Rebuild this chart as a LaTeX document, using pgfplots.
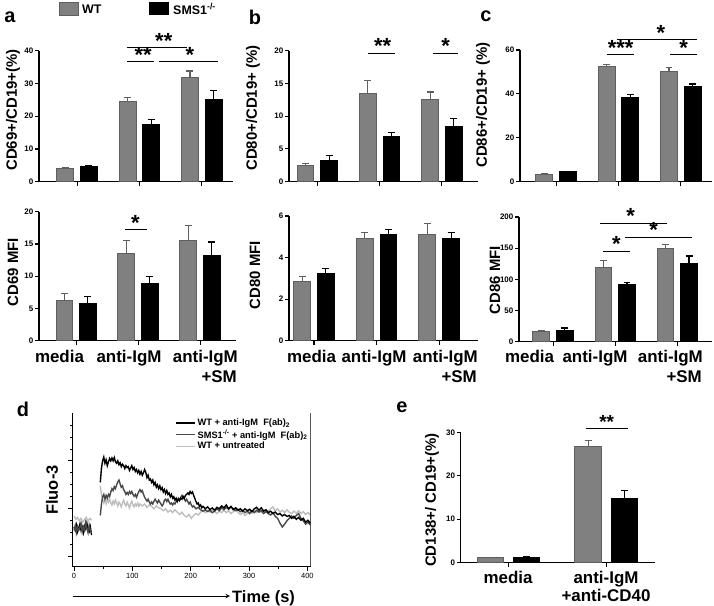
\documentclass[border=0pt]{standalone}
\usepackage{fontspec}
\setmainfont{Liberation Sans}
\usepackage{pgfplots}
\pgfplotsset{compat=1.18}
\definecolor{wtfill}{RGB}{128,128,128}
\definecolor{wtdraw}{RGB}{95,95,95}
\definecolor{smsgray}{RGB}{72,72,72}
\definecolor{untr}{RGB}{190,190,190}
\newcommand{\fs}[1]{\fontsize{#1}{#1}\selectfont}
\pgfplotsset{
  barax/.style={
    scale only axis, anchor=south west,
    axis lines=left,
    axis line style={-, line width=1.3pt},
    ymin=0, xtick={0,1,2}, xticklabels={},
    tick align=outside, major tick length=4pt,
    tick style={line width=1.1pt, black},
    yticklabel style={font=\bfseries\fs{8}, inner sep=1.5pt},
    /pgf/number format/assume math mode=true,
    clip=false,
  },
  wt/.style={ybar, bar width=0.27, bar shift=0pt, fill=wtfill, draw=wtdraw, line width=1pt,
    error bars/y dir=plus, error bars/y explicit,
    error bars/error bar style={line width=1.1pt, draw=wtdraw},
    error bars/error mark options={rotate=90, mark size=3.5pt, line width=1.1pt, draw=wtdraw}},
  sms/.style={ybar, bar width=0.27, bar shift=0pt, fill=black, draw=black, line width=1pt,
    error bars/y dir=plus, error bars/y explicit,
    error bars/error bar style={line width=1.1pt, draw=black},
    error bars/error mark options={rotate=90, mark size=3.5pt, line width=1.1pt, draw=black}},
}
\tikzset{
  sig/.style={line width=1pt, black},
  ast/.style={font=\bfseries\fs{22}, anchor=base, inner sep=0pt, yshift=-0.5pt},
  cat/.style={font=\bfseries\fs{17}, anchor=base, inner sep=0pt},
  ylab/.style={font=\bfseries\fs{15}, rotate=90, anchor=center, inner sep=0pt},
  plab/.style={font=\bfseries\fs{20}, anchor=center, inner sep=0pt},
}
\begin{document}
\begin{tikzpicture}
\useasboundingbox (0,0) rectangle (714bp,-606bp);

% ---------- legend (top) ----------
\filldraw[fill=wtfill, draw=wtdraw, line width=0.8pt] (59.5bp,-2bp) rectangle (78bp,-15bp);
\node[anchor=west, font=\bfseries\fs{12.5}, inner sep=0pt] at (82bp,-9bp) {WT};
\fill[black] (149bp,-2bp) rectangle (169bp,-15bp);
\node[anchor=west, font=\bfseries\fs{12.5}, inner sep=0pt] at (173bp,-9bp) {SMS1\textsuperscript{-/-}};

% ---------- panel a top ----------
\begin{axis}[barax, at={(39bp,-181.7bp)}, width=194bp, height=131bp,
  xmin=-0.61, xmax=2.5, ymax=40, ytick={0,10,20,30,40}]
\addplot[wt] coordinates {(-0.19,4.0) +- (0,0.3) (0.81,24.6) +- (0,1.1) (1.81,31.8) +- (0,2.0)};
\addplot[sms] coordinates {(0.19,4.5) +- (0,0.5) (1.19,17.6) +- (0,1.4) (2.19,25.2) +- (0,2.7)};
\draw[sig] (axis cs:0.80,36.6) -- (axis cs:1.24,36.6);
\node[ast] at (axis cs:1.06,36.6) {**};
\draw[sig] (axis cs:0.80,40.9) -- (axis cs:1.76,40.9);
\node[ast] at (axis cs:1.39,40.9) {**};
\draw[sig] (axis cs:1.32,36.6) -- (axis cs:2.26,36.6);
\node[ast] at (axis cs:1.81,36.6) {*};
\end{axis}

% ---------- panel a bottom ----------
\begin{axis}[barax, at={(39bp,-340.7bp)}, width=197bp, height=129bp,
  xmin=-0.6, xmax=2.58, ymax=20, ytick={0,5,10,15,20}]
\addplot[wt] coordinates {(-0.19,6.3) +- (0,1.0) (0.81,13.5) +- (0,2.1) (1.81,15.5) +- (0,2.4)};
\addplot[sms] coordinates {(0.19,5.8) +- (0,1.0) (1.19,8.9) +- (0,1.0) (2.19,13.2) +- (0,2.1)};
\draw[sig] (axis cs:0.79,17.2) -- (axis cs:1.14,17.2);
\node[ast] at (axis cs:0.955,17.2) {*};
\end{axis}

% ---------- panel b top ----------
\begin{axis}[barax, at={(289bp,-181.7bp)}, width=189bp, height=131bp,
  xmin=-0.455, xmax=2.58, ymax=20, ytick={0,5,10,15,20}]
\addplot[wt] coordinates {(-0.19,2.5) +- (0,0.3) (0.81,13.4) +- (0,2.0) (1.81,12.6) +- (0,1.1)};
\addplot[sms] coordinates {(0.19,3.3) +- (0,0.7) (1.19,6.9) +- (0,0.6) (2.19,8.5) +- (0,1.2)};
\draw[sig] (axis cs:0.815,19.6) -- (axis cs:1.25,19.6);
\node[ast] at (axis cs:1.05,19.6) {**};
\draw[sig] (axis cs:1.86,19.6) -- (axis cs:2.26,19.6);
\node[ast] at (axis cs:2.06,19.6) {*};
\end{axis}

% ---------- panel b bottom ----------
\begin{axis}[barax, at={(289bp,-340.7bp)}, width=189bp, height=124.7bp,
  xmin=-0.4, xmax=2.62, ymax=6, ytick={0,2,4,6}]
\addplot[wt] coordinates {(-0.19,2.87) +- (0,0.2) (0.81,4.94) +- (0,0.28) (1.81,5.1) +- (0,0.55)};
\addplot[sms] coordinates {(0.19,3.21) +- (0,0.27) (1.19,5.09) +- (0,0.27) (2.19,4.91) +- (0,0.31)};
\end{axis}

% ---------- panel c top ----------
\begin{axis}[barax, at={(520bp,-181.7bp)}, width=192bp, height=131.7bp,
  xmin=-0.58, xmax=2.5, ymax=60, ytick={0,20,40,60}]
\addplot[wt] coordinates {(-0.19,3.3) +- (0,0.2) (0.81,52.4) +- (0,1.1) (1.81,50.2) +- (0,2.0)};
\addplot[sms] coordinates {(0.19,4.5) +- (0,0.3) (1.19,38.4) +- (0,1.5) (2.19,43.6) +- (0,0.9)};
\draw[sig] (axis cs:0.82,57.8) -- (axis cs:1.25,57.8);
\node[ast] at (axis cs:1.035,57.8) {***};
\draw[sig] (axis cs:1.83,57.8) -- (axis cs:2.26,57.8);
\node[ast] at (axis cs:2.045,57.8) {*};
\draw[sig] (axis cs:0.98,64.6) -- (axis cs:2.26,64.6);
\node[ast] at (axis cs:1.68,64.6) {*};
\end{axis}

% ---------- panel c bottom ----------
\begin{axis}[barax, at={(519bp,-341.7bp)}, width=193bp, height=124.7bp,
  xmin=-0.55, xmax=2.56, ymax=200, ytick={0,50,100,150,200}]
\addplot[wt] coordinates {(-0.19,16) +- (0,2.5) (0.81,119.6) +- (0,10.2) (1.81,150) +- (0,5.4)};
\addplot[sms] coordinates {(0.19,18) +- (0,4) (1.19,91) +- (0,4.3) (2.19,126) +- (0,11.5)};
\draw[sig] (axis cs:0.76,190) -- (axis cs:1.84,190);
\node[ast] at (axis cs:1.25,190) {*};
\draw[sig] (axis cs:1.15,167.8) -- (axis cs:2.24,167.8);
\node[ast] at (axis cs:1.62,167.8) {*};
\draw[sig] (axis cs:0.81,144.8) -- (axis cs:1.24,144.8);
\node[ast] at (axis cs:1.02,144.8) {*};
\end{axis}

% ---------- panel e ----------
\begin{axis}[barax, at={(460.7bp,-562.7bp)}, width=194.3bp, height=130.4bp,
  xmin=-0.49, xmax=1.5, ymax=30, xtick={0,1}, ytick={0,10,20,30}]
\addplot[bar width=0.265, wt] coordinates {(-0.185,1.2) +- (0,0.1) (0.815,26.7) +- (0,1.5)};
\addplot[bar width=0.265, sms] coordinates {(0.185,1.3) +- (0,0.1) (1.185,14.8) +- (0,1.8)};
\draw[sig] (axis cs:0.79,30.9) -- (axis cs:1.22,30.9);
\node[ast, font=\bfseries\fs{19}, yshift=0pt] at (axis cs:1.005,30.9) {**};
\end{axis}

% ---------- panel d ----------
\begin{axis}[scale only axis, anchor=south west, at={(72.7bp,-566.7bp)},
  width=238bp, height=153.7bp,
  xmin=-2.3, xmax=405.7, ymin=-0.21, ymax=3.0,
  axis lines=left, axis line style={-, line width=1.1pt},
  xtick={0,100,200,300,400}, minor xtick={50,150,250,350},
  ytick={0,1,2}, yticklabels={}, minor ytick={0.25,0.5,0.75,1.25,1.5,1.75,2.25,2.5,2.75},
  tick align=outside, major tick length=4.5pt, minor tick length=2.5pt,
  tick style={line width=0.8pt, black},
  xticklabel style={font=\fs{7.5}, inner sep=2pt},
  /pgf/number format/assume math mode=true,
  legend style={at={(0.43,0.975)}, anchor=north west, draw=none, fill=none,
    font=\bfseries\fs{9.3}, inner sep=0pt, row sep=-1.5pt},
  legend cell align=left,
  legend image code/.code={\draw[#1] (0bp,0bp) -- (19bp,0bp);},
]
\addplot[black, line width=1.4pt] coordinates {
(0,0.62)(2,0.55)(4,0.66)(6,0.52)(8,0.6)(10,0.68)(12,0.55)(14,0.62)(16,0.5)(18,0.64)(20,0.58)(22,0.7)(24,0.56)(26,0.52)(28,0.62)(30,0.45)};
\addlegendentry{WT + anti-IgM\ \ F(ab)\textsubscript{2}}
\addplot[smsgray, line width=1.4pt] coordinates {
(0,0.55)(2,0.65)(4,0.5)(6,0.63)(8,0.55)(10,0.6)(12,0.7)(14,0.52)(16,0.62)(18,0.55)(20,0.72)(22,0.6)(24,0.5)(26,0.66)(28,0.55)(30,0.5)};
\addlegendentry{SMS1\textsuperscript{-/-} + anti-IgM\ \ F(ab)\textsubscript{2}}
\addplot[untr, line width=1.4pt] coordinates {
(0,0.85)(3,0.78)(6,0.82)(9,0.75)(12,0.8)(15,0.72)(18,0.78)(21,0.82)(24,0.74)(27,0.8)(30,0.76)};
\addlegendentry{WT + untreated}
% post-stimulation traces
\addplot[untr, line width=1.4pt, forget plot] coordinates {
(45,1.48)(47,1.3)(49,1.2)(51,1.12)(53,1.18)(55,1.1)(57,1.2)(59,1.14)(61,1.22)(63,1.12)(65,1.08)(67,1.16)(69,1.1)(71,1.18)(73,1.12)(75,1.06)(77,1.14)(79,1.1)(81,1.04)(83,1.12)(85,1.18)(87,1.1)(89,1.06)(91,1.14)(93,1.08)(95,1.02)(97,1.1)(99,1.16)(101,1.08)(103,1.04)(105,1.1)(107,1.06)(109,1.12)(111,1.05)(113,1.1)(117,1.06)(121,1.1)(125,1.03)(129,1.08)(133,1.05)(137,1.0)(141,1.06)(145,1.02)(149,1.0)(153,0.96)(157,1.0)(161,0.93)(165,0.97)(169,0.92)(173,0.98)(177,0.93)(181,0.88)(185,0.93)(189,0.86)(193,0.83)(197,0.88)(201,0.8)(205,0.86)(209,0.9)(213,0.87)(217,0.93)(221,0.96)(225,0.92)(229,0.97)(233,0.93)(237,0.98)(241,0.94)(245,0.9)(249,0.95)(253,0.92)(257,0.97)(261,0.92)(265,0.96)(269,0.9)(273,0.94)(277,0.98)(281,0.93)(285,0.88)(289,0.92)(293,0.86)(297,0.9)(301,0.95)(305,0.91)(309,0.96)(313,0.92)(317,0.97)(321,0.93)(325,0.98)(329,0.94)(333,0.96)(337,1.0)(341,1.04)(345,0.95)(349,1.0)(353,0.93)(357,0.97)(361,0.92)(365,0.98)(369,0.93)(373,0.9)(377,0.95)(381,0.91)(385,0.96)(389,0.9)(393,0.94)(397,0.88)(401,0.92)(405,0.87)};
\addplot[smsgray, line width=1.4pt, forget plot] coordinates {
(45,0.86)(47,1.1)(49,1.25)(51,1.3)(53,1.2)(55,1.28)(57,1.22)(59,1.3)(61,1.26)(63,1.35)(65,1.42)(67,1.38)(69,1.46)(71,1.42)(73,1.5)(75,1.56)(77,1.6)(79,1.52)(81,1.45)(83,1.48)(85,1.4)(87,1.36)(89,1.3)(91,1.34)(93,1.3)(95,1.36)(97,1.32)(99,1.36)(101,1.3)(103,1.26)(105,1.3)(107,1.24)(109,1.3)(111,1.36)(113,1.4)(115,1.35)(117,1.38)(119,1.3)(121,1.24)(123,1.2)(125,1.16)(127,1.2)(129,1.14)(131,1.1)(133,1.14)(135,1.1)(137,1.16)(139,1.2)(141,1.16)(143,1.12)(145,1.18)(147,1.14)(149,1.1)(151,1.06)(153,1.1)(155,1.18)(157,1.2)(159,1.15)(161,1.2)(163,1.14)(165,1.1)(167,1.12)(169,1.08)(171,1.12)(173,1.1)(175,1.15)(177,1.18)(179,1.22)(181,1.18)(183,1.24)(185,1.28)(187,1.24)(189,1.2)(191,1.16)(193,1.2)(195,1.15)(197,1.1)(199,1.14)(201,1.08)(203,1.04)(205,1.06)(209,1.0)(213,1.03)(217,0.98)(221,0.95)(225,0.98)(229,0.94)(233,0.97)(237,0.92)(241,0.95)(245,1.0)(249,0.96)(253,1.02)(257,0.98)(261,1.03)(265,0.99)(269,1.04)(273,1.0)(277,0.96)(281,0.99)(285,0.94)(289,0.97)(293,0.92)(297,0.95)(301,0.9)(305,0.96)(309,0.92)(313,0.97)(317,0.93)(321,0.96)(325,0.9)(329,0.94)(333,0.9)(337,0.87)(341,0.92)(345,0.84)(349,0.8)(353,0.7)(357,0.62)(361,0.68)(365,0.75)(369,0.8)(373,0.85)(377,0.8)(381,0.86)(385,0.9)(389,0.8)(393,0.75)(397,0.68)(401,0.72)(405,0.66)};
\addplot[black, line width=1.4pt, forget plot] coordinates {
(45,1.55)(47,1.85)(49,2.0)(51,2.08)(53,1.95)(55,2.02)(57,1.9)(59,1.98)(61,2.05)(63,2.0)(65,2.06)(67,2.0)(69,2.07)(71,1.98)(73,1.95)(75,2.0)(77,1.92)(79,1.96)(81,1.88)(83,1.93)(85,1.9)(87,1.84)(89,1.9)(91,1.86)(93,1.88)(95,1.8)(97,1.85)(99,1.9)(101,1.82)(103,1.86)(105,1.78)(107,1.82)(109,1.75)(111,1.8)(113,1.72)(115,1.78)(117,1.7)(119,1.75)(121,1.82)(123,1.76)(125,1.65)(127,1.7)(129,1.6)(131,1.62)(133,1.55)(135,1.6)(137,1.5)(139,1.55)(141,1.45)(143,1.5)(145,1.42)(147,1.48)(149,1.4)(151,1.44)(153,1.35)(155,1.4)(157,1.32)(159,1.38)(161,1.3)(163,1.33)(165,1.25)(167,1.3)(169,1.22)(171,1.25)(173,1.18)(175,1.22)(177,1.15)(179,1.2)(181,1.17)(183,1.22)(185,1.2)(187,1.26)(189,1.22)(191,1.28)(193,1.3)(195,1.33)(197,1.3)(199,1.36)(201,1.32)(203,1.35)(205,1.28)(207,1.22)(209,1.15)(211,1.1)(213,1.12)(215,1.05)(217,1.08)(219,1.02)(221,1.05)(225,1.0)(229,1.04)(233,0.98)(237,1.02)(241,0.97)(245,1.03)(249,1.0)(253,1.06)(257,1.02)(261,1.08)(265,1.0)(269,1.05)(273,0.98)(277,1.02)(281,0.97)(285,1.0)(289,0.95)(293,1.0)(297,0.96)(301,0.99)(305,0.94)(309,1.0)(313,1.03)(317,0.97)(321,1.02)(325,0.95)(329,0.98)(333,0.92)(337,0.95)(341,0.9)(345,0.93)(349,0.88)(353,0.9)(357,0.85)(361,0.88)(365,0.84)(369,0.86)(373,0.8)(377,0.84)(381,0.78)(385,0.82)(389,0.76)(393,0.8)(397,0.72)(401,0.76)(405,0.7)};
\draw[line width=1.1pt] (rel axis cs:1,0) -- (rel axis cs:1,1);
\end{axis}

% ---------- y labels ----------
\node[ylab] at (13bp,-110bp) {CD69+/CD19+(\%)};
\node[ylab] at (13bp,-272bp) {CD69 MFI};
\node[ylab] at (253bp,-108bp) {CD80+/CD19+ (\%)};
\node[ylab] at (255bp,-275bp) {CD80 MFI};
\node[ylab] at (483bp,-105bp) {CD86+/CD19+ (\%)};
\node[ylab] at (495bp,-280bp) {CD86 MFI};
\node[ylab] at (432bp,-500bp) {CD138+/ CD19+(\%)};
\node[ylab, font=\bfseries\fs{16.5}] at (52bp,-490bp) {Fluo-3};

% ---------- panel letters ----------
\node[plab] at (10bp,-17bp) {a};
\node[plab] at (255bp,-17bp) {b};
\node[plab] at (486bp,-16bp) {c};
\node[plab] at (23bp,-409bp) {d};
\node[plab] at (402bp,-407bp) {e};

% ---------- category labels ----------
\node[cat] at (59.5bp,-362bp) {media};
\node[cat] at (129bp,-362bp) {anti-IgM};
\node[cat, anchor=base east] at (238bp,-362bp) {anti-IgM};
\node[cat, anchor=base east] at (237bp,-382bp) {+SM};
\node[cat] at (311.5bp,-362bp) {media};
\node[cat] at (374bp,-362bp) {anti-IgM};
\node[cat, anchor=base east] at (478bp,-362bp) {anti-IgM};
\node[cat, anchor=base east] at (477bp,-382bp) {+SM};
\node[cat] at (529.5bp,-362bp) {media};
\node[cat] at (595bp,-362bp) {anti-IgM};
\node[cat, anchor=base east] at (703bp,-362bp) {anti-IgM};
\node[cat, anchor=base east] at (702bp,-382bp) {+SM};
\node[cat] at (508bp,-583bp) {media};
\node[cat] at (606bp,-583bp) {anti-IgM};
\node[cat] at (606bp,-601bp) {+anti-CD40};

% ---------- time arrow ----------
\draw[line width=1pt, -stealth] (73bp,-596bp) -- (230bp,-596bp);
\node[anchor=base west, font=\bfseries\fs{16.5}, inner sep=0pt] at (232bp,-602bp) {Time (s)};
\end{tikzpicture}
\end{document}
